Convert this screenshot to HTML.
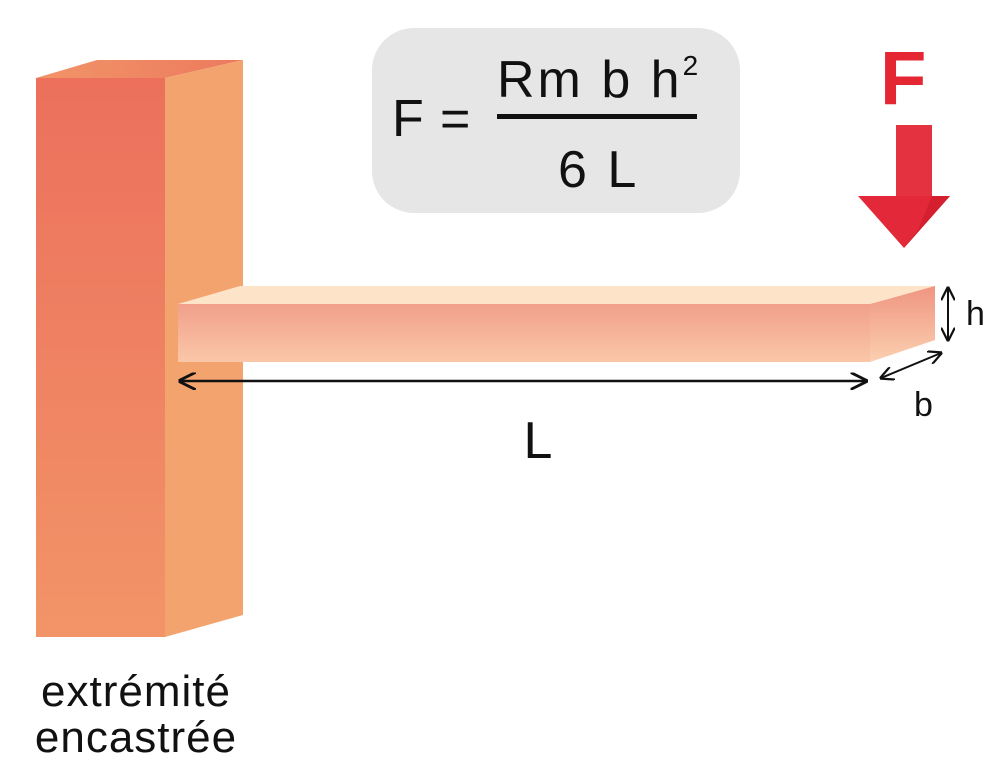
<!DOCTYPE html>
<html><head><meta charset="utf-8"><style>
html,body{margin:0;padding:0;background:#fff;}
body{width:1000px;height:770px;overflow:hidden;}
</style></head><body>
<svg width="1000" height="770" viewBox="0 0 1000 770" xmlns="http://www.w3.org/2000/svg" font-family="Liberation Sans, sans-serif">
<defs>
<linearGradient id="pf" x1="0" y1="0" x2="0" y2="1"><stop offset="0" stop-color="#ec705c"/><stop offset="1" stop-color="#f29468"/></linearGradient>
<linearGradient id="pt" x1="0" y1="0" x2="1" y2="0"><stop offset="0" stop-color="#f29468"/><stop offset="1" stop-color="#ec7a5e"/></linearGradient>
<linearGradient id="bf" x1="0" y1="0" x2="0" y2="1"><stop offset="0" stop-color="#f1a08a"/><stop offset="1" stop-color="#fac7a8"/></linearGradient>
<linearGradient id="bs" x1="0" y1="0" x2="0" y2="1"><stop offset="0" stop-color="#ef9580"/><stop offset="1" stop-color="#fbcfb0"/></linearGradient>
<marker id="ah" viewBox="0 0 10 10" refX="9" refY="5" markerWidth="7" markerHeight="7" orient="auto-start-reverse"><path d="M0,0 L10,5 L0,10" fill="none" stroke="#111" stroke-width="1.6"/></marker>
</defs>
<polygon points="36,78 97,60 243,60 165,78" fill="url(#pt)"/>
<polygon points="165,78 243,60 243,615 165,637" fill="#f3a46e"/>
<rect x="36" y="78" width="129" height="559" fill="url(#pf)"/>
<polygon points="178,304 240,286 935,286 870,304" fill="#fde3c8"/>
<polygon points="870,304 935,286 935,340 870,362" fill="url(#bs)"/>
<rect x="178" y="304" width="692" height="58" fill="url(#bf)"/>
<line x1="180" y1="381" x2="866" y2="381" stroke="#111" stroke-width="2.5" marker-start="url(#ah)" marker-end="url(#ah)"/>
<text x="538" y="458" font-size="52" text-anchor="middle" fill="#111">L</text>
<line x1="948" y1="288" x2="948" y2="340" stroke="#111" stroke-width="2" marker-start="url(#ah)" marker-end="url(#ah)"/>
<text x="966" y="325" font-size="34" fill="#111">h</text>
<line x1="881" y1="378" x2="941" y2="353" stroke="#111" stroke-width="2" marker-start="url(#ah)" marker-end="url(#ah)"/>
<text x="914" y="416" font-size="34" fill="#111">b</text>
<rect x="372" y="28" width="368" height="185" rx="42" fill="#e6e6e6"/>
<text x="392" y="136" font-size="52" fill="#111">F</text>
<text x="440" y="136" font-size="52" fill="#111">=</text>
<text x="497" y="97" font-size="52" fill="#111" letter-spacing="3">Rm b h<tspan font-size="28" dy="-22">2</tspan></text>
<rect x="497" y="114" width="200" height="5" fill="#111"/>
<text x="558" y="187" font-size="52" fill="#111" letter-spacing="3">6 L</text>
<text x="880" y="104" font-size="76" font-weight="bold" fill="#e52633">F</text>
<rect x="896" y="125" width="36" height="72" fill="#e43240"/>
<polygon points="858,196 950,196 904,248" fill="#e3283a"/>
<polygon points="904,248 950,196 932,196 918,230" fill="#d41f2e"/>
<text x="136" y="706" font-size="44" text-anchor="middle" fill="#111" letter-spacing="1">extrémité</text>
<text x="136" y="752" font-size="44" text-anchor="middle" fill="#111" letter-spacing="1">encastrée</text>
</svg>
</body></html>
